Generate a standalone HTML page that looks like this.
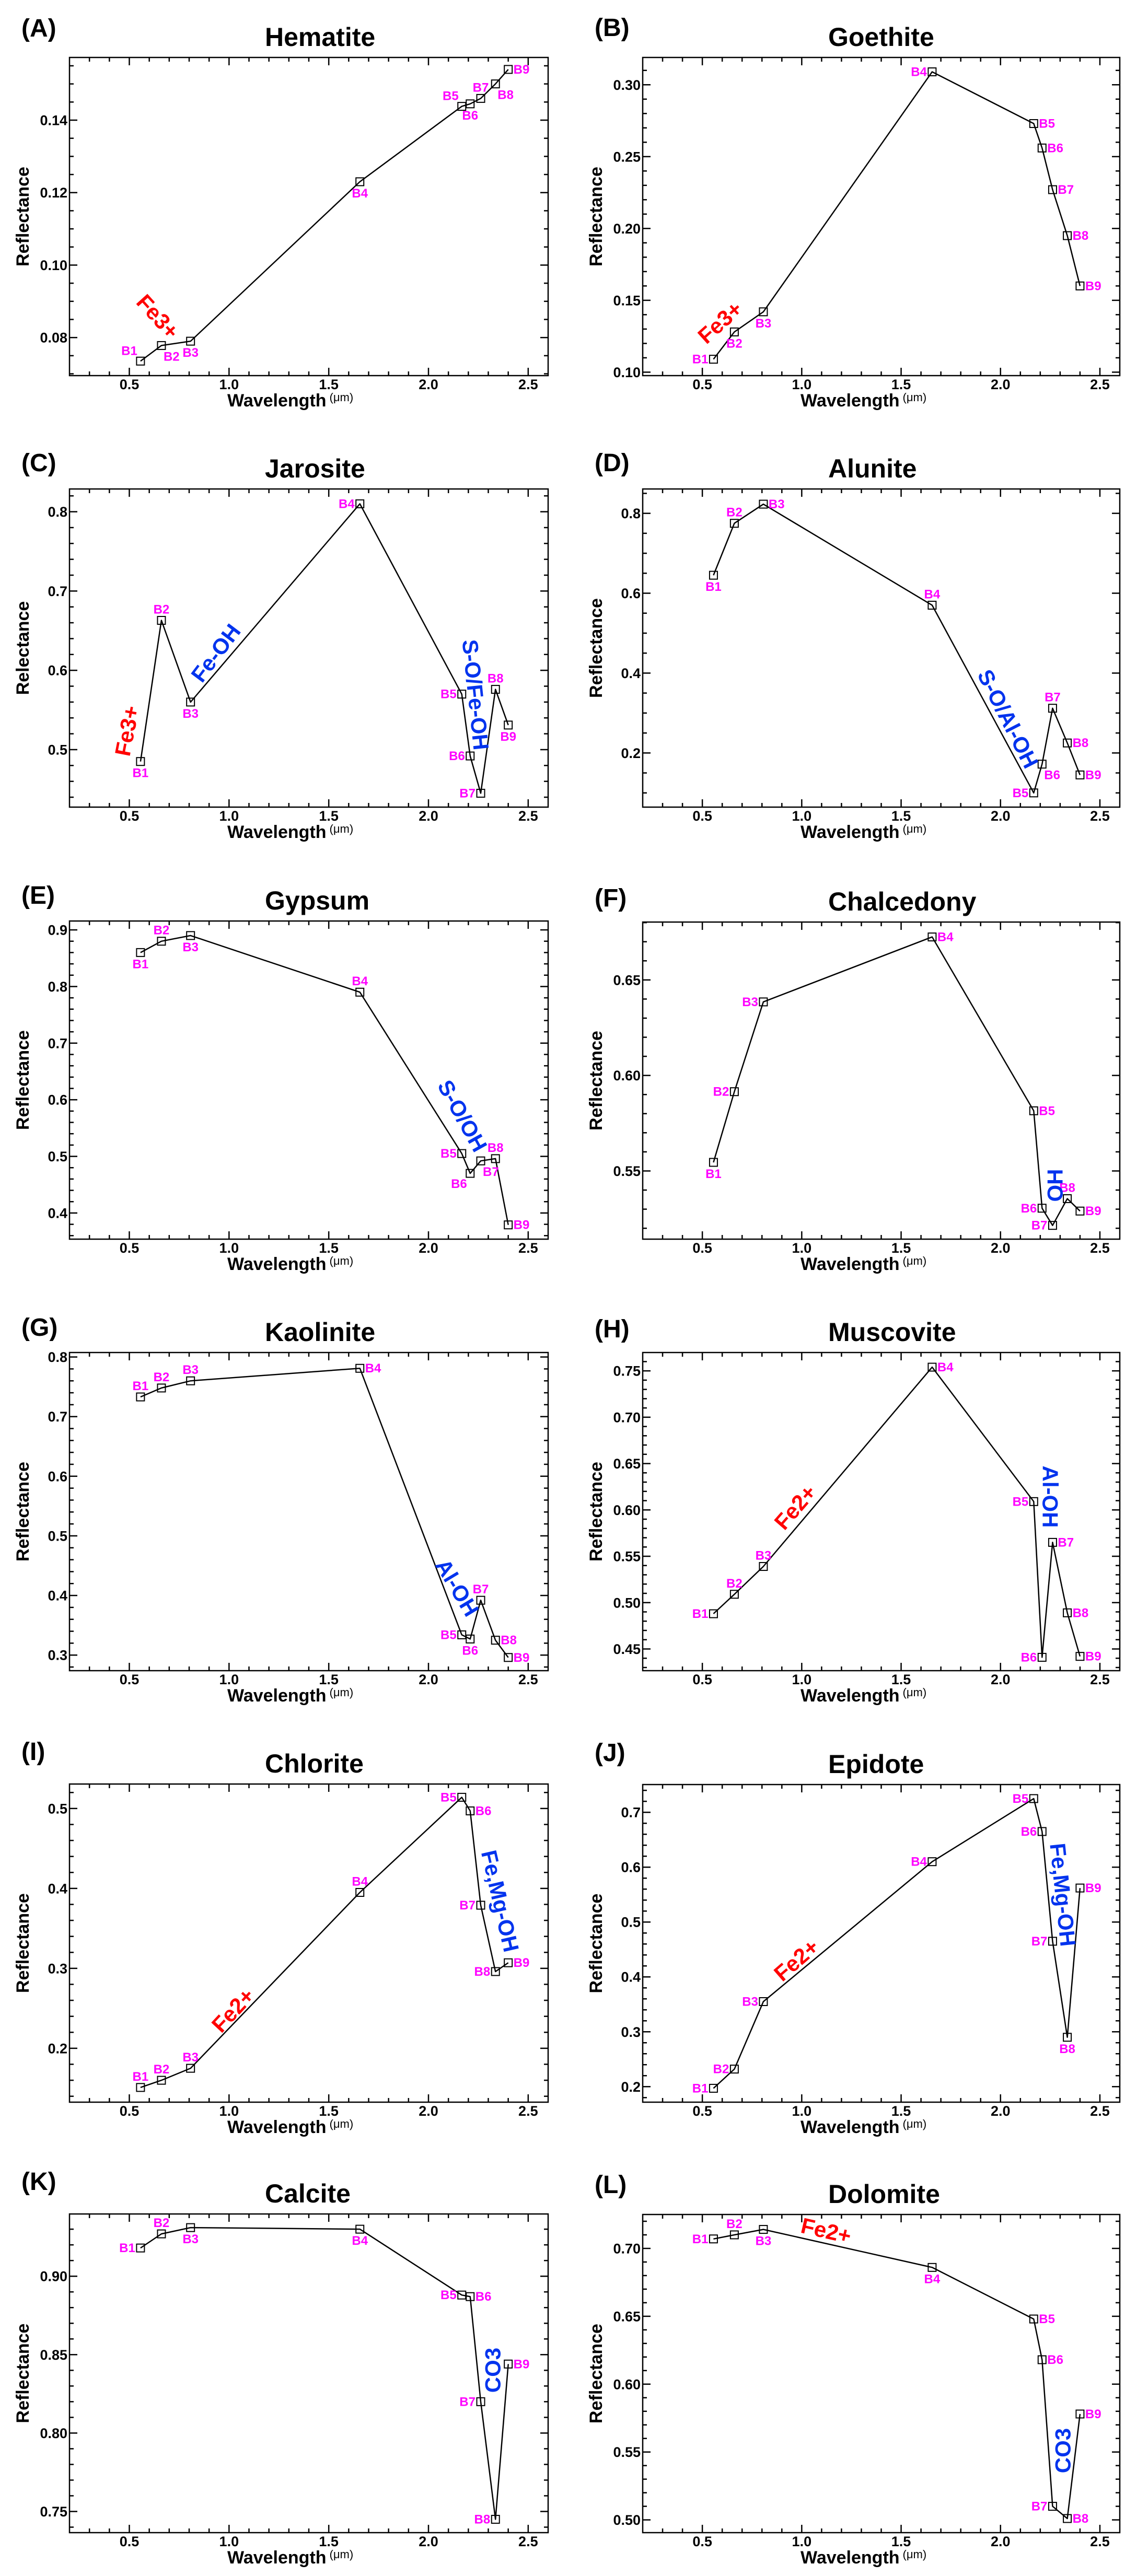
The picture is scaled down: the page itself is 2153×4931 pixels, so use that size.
<!DOCTYPE html>
<html><head><meta charset="utf-8"><title>Mineral spectra</title>
<style>
html,body{margin:0;padding:0;background:#fff;}
svg{display:block;font-family:"Liberation Sans",Arial,sans-serif;}
</style></head>
<body>
<svg id="fig" width="2153" height="4931" viewBox="0 0 2153 4931" xmlns="http://www.w3.org/2000/svg"></svg>
<script>
const bands=[0.556,0.661,0.807,1.656,2.167,2.209,2.262,2.336,2.400];
const bandNames=['B1','B2','B3','B4','B5','B6','B7','B8','B9'];
const xTickLabels=['0.5','1.0','1.5','2.0','2.5'];
const hematiteValues=[0.0735,0.0778,0.0790,0.1230,0.1438,0.1445,0.1460,0.1500,0.1540];
const goethiteValues=[0.109,0.128,0.142,0.309,0.273,0.256,0.227,0.195,0.160];
const jarositeValues=[0.485,0.663,0.560,0.810,0.570,0.492,0.445,0.576,0.531];
const aluniteValues=[0.645,0.775,0.823,0.570,0.100,0.172,0.312,0.225,0.145];
const gypsumValues=[0.860,0.880,0.890,0.790,0.505,0.470,0.492,0.496,0.379];
const chalcedonyValues=[0.5545,0.5915,0.6385,0.6725,0.5815,0.5305,0.5215,0.5355,0.5290];
const kaoliniteValues=[0.733,0.748,0.760,0.781,0.334,0.327,0.392,0.325,0.296];
const muscoviteValues=[0.488,0.509,0.539,0.754,0.609,0.441,0.565,0.489,0.442];
const chloriteValues=[0.151,0.160,0.175,0.395,0.514,0.497,0.379,0.296,0.307];
const epidoteValues=[0.197,0.232,0.355,0.610,0.725,0.665,0.465,0.290,0.562];
const calciteValues=[0.918,0.927,0.931,0.930,0.888,0.887,0.820,0.745,0.844];
const dolomiteValues=[0.707,0.710,0.714,0.686,0.648,0.618,0.510,0.501,0.578];

const svg=document.getElementById('fig');
const NS='http://www.w3.org/2000/svg';
function mk(tag,attrs,parent){const e=document.createElementNS(NS,tag);for(const k in attrs)e.setAttribute(k,attrs[k]);(parent||svg).appendChild(e);return e;}

const panels=[
{id:'A',title:'Hematite',ytitle:'Reflectance',values:hematiteValues,ymin:0.0695,ymax:0.1573,major:0.02,minor:0.005,dec:2,col:0,top:110,bottom:719,labelY:70,
 pos:['tl','br','b','b','tl','b','t','br','r'],ann:[{t:'Fe3+',x:302,y:606,r:48,c:'#ff0000'}]},
{id:'B',title:'Goethite',ytitle:'Reflectance',values:goethiteValues,ymin:0.0976,ymax:0.319,major:0.05,minor:0.01,dec:2,col:1,top:110,bottom:719,labelY:69,
 pos:['l','b','b','l','r','r','r','r','r'],ann:[{t:'Fe3+',x:1378,y:617,r:-42,c:'#ff0000'}]},
{id:'C',title:'Jarosite',ytitle:'Relectance',values:jarositeValues,ymin:0.4275,ymax:0.8287,major:0.1,minor:0.02,dec:1,col:0,top:936,bottom:1545,labelY:902,
 pos:['b','t','b','l','l','l','l','t','b'],ann:[{t:'Fe3+',x:243,y:1399,r:-79,c:'#ff0000'},{t:'Fe-OH',x:413,y:1250,r:-53,c:'#0033ee'},{t:'S-O/Fe-OH',x:910,y:1330,r:84,c:'#0033ee'}]},
{id:'D',title:'Alunite',ytitle:'Reflectance',values:aluniteValues,ymin:0.0644,ymax:0.861,major:0.2,minor:0.05,dec:1,col:1,top:936,bottom:1545,labelY:902,
 pos:['b','t','r','t','l','br','t','r','r'],ann:[{t:'S-O/Al-OH',x:1929,y:1376,r:63,c:'#0033ee'}]},
{id:'E',title:'Gypsum',ytitle:'Reflectance',values:gypsumValues,ymin:0.3538,ymax:0.9157,major:0.1,minor:0.02,dec:1,col:0,top:1763,bottom:2372,labelY:1730,
 pos:['b','t','b','t','l','bl','br','t','r'],ann:[{t:'S-O/OH',x:885,y:2136,r:61,c:'#0033ee'}]},
{id:'F',title:'Chalcedony',ytitle:'Reflectance',values:chalcedonyValues,ymin:0.5143,ymax:0.6803,major:0.05,minor:0.01,dec:2,col:1,top:1765,bottom:2372,labelY:1735,
 pos:['b','l','l','r','r','l','l','t','r'],ann:[{t:'OH',x:2019,y:2269,r:-90,c:'#0033ee'}]},
{id:'G',title:'Kaolinite',ytitle:'Reflectance',values:kaoliniteValues,ymin:0.2739,ymax:0.8075,major:0.1,minor:0.02,dec:1,col:0,top:2589,bottom:3198,labelY:2557,
 pos:['t','t','t','r','l','b','t','r','r'],ann:[{t:'Al-OH',x:875,y:3039,r:59,c:'#0033ee'}]},
{id:'H',title:'Muscovite',ytitle:'Reflectance',values:muscoviteValues,ymin:0.4266,ymax:0.7698,major:0.05,minor:0.01,dec:2,col:1,top:2589,bottom:3198,labelY:2560,
 pos:['l','t','t','r','l','l','r','r','r'],ann:[{t:'Fe2+',x:1522,y:2885,r:-49,c:'#ff0000'},{t:'Al-OH',x:2010,y:2865,r:90,c:'#0033ee'}]},
{id:'I',title:'Chlorite',ytitle:'Reflectance',values:chloriteValues,ymin:0.1326,ymax:0.5306,major:0.1,minor:0.02,dec:1,col:0,top:3415,bottom:4024,labelY:3369,
 pos:['t','t','t','t','l','r','l','l','r'],ann:[{t:'Fe2+',x:446,y:3848,r:-47,c:'#ff0000'},{t:'Fe,Mg-OH',x:957,y:3639,r:77,c:'#0033ee'}]},
{id:'J',title:'Epidote',ytitle:'Reflectance',values:epidoteValues,ymin:0.1717,ymax:0.7506,major:0.1,minor:0.02,dec:1,col:1,top:3416,bottom:4024,labelY:3371,
 pos:['l','l','l','l','l','l','l','b','r'],ann:[{t:'Fe2+',x:1524,y:3752,r:-41,c:'#ff0000'},{t:'Fe,Mg-OH',x:2034,y:3627,r:84,c:'#0033ee'}]},
{id:'K',title:'Calcite',ytitle:'Reflectance',values:calciteValues,ymin:0.7365,ymax:0.9397,major:0.05,minor:0.01,dec:2,col:0,top:4238,bottom:4848,labelY:4192,
 pos:['l','t','b','b','l','r','l','l','r'],ann:[{t:'CO3',x:943,y:4537,r:-90,c:'#0033ee'}]},
{id:'L',title:'Dolomite',ytitle:'Reflectance',values:dolomiteValues,ymin:0.4906,ymax:0.725,major:0.05,minor:0.01,dec:2,col:1,top:4239,bottom:4848,labelY:4198,
 pos:['l','t','b','b','r','r','l','r','r'],ann:[{t:'Fe2+',x:1581,y:4270,r:13,c:'#ff0000'},{t:'CO3',x:2034,y:4691,r:-90,c:'#0033ee'}]}
];

const XMIN=0.2,XMAX=2.6;
panels.forEach(p=>{
  const left=p.col===0?133:1230, right=p.col===0?1049:2143;
  const top=p.top,bottom=p.bottom;
  const xs=v=>left+(v-XMIN)/(XMAX-XMIN)*(right-left);
  const ys=v=>bottom-(v-p.ymin)/(p.ymax-p.ymin)*(bottom-top);
  const key=p.title.toLowerCase();
  const g=mk('g',{});
  
  

  const lab=mk('text',{x:left-92,y:p.labelY,'font-size':48,'font-weight':'bold',fill:'#000'},g);
  lab.textContent='('+p.id+')';
  
  

  const tt=mk('text',{x:p.col===0?507:1585,y:top-22,'font-size':50,'font-weight':'bold',fill:'#000'},g);
  tt.textContent=p.title;
  
  

  const frame=mk('rect',{x:left,y:top,width:right-left,height:bottom-top,fill:'none',stroke:'#000','stroke-width':2.5},g);
  
  

  const k0=Math.ceil(p.ymin/p.minor-1e-6),k1=Math.floor(p.ymax/p.minor+1e-6);
  for(let k=k0;k<=k1;k++){
    const v=k*p.minor;
    const isMaj=Math.abs(v/p.major-Math.round(v/p.major))<1e-6;
    const L=isMaj?15:8, y=ys(v);
    const t1=mk('line',{x1:left,x2:left+L,y1:y,y2:y,stroke:'#000','stroke-width':2.5},g);
    
    
    const t2=mk('line',{x1:right,x2:right-L,y1:y,y2:y,stroke:'#000','stroke-width':2.5},g);
    
    
    if(isMaj){
      const tl=mk('text',{x:left-4,y:y+9.5,'font-size':27,'font-weight':'bold','text-anchor':'end',fill:'#000'},g);
      tl.textContent=v.toFixed(p.dec);
      
      
    }
  }
  for(let k=3;k<=25;k++){
    const v=k/10, isMaj=(k%5===0), L=isMaj?15:8, x=xs(v);
    const t1=mk('line',{x1:x,x2:x,y1:bottom,y2:bottom-L,stroke:'#000','stroke-width':2.5},g);
    
    
    const t2=mk('line',{x1:x,x2:x,y1:top,y2:top+L,stroke:'#000','stroke-width':2.5},g);
    
    
  }
  xTickLabels.forEach(s=>{
    const tl=mk('text',{x:xs(parseFloat(s)),y:bottom+26,'font-size':27,'font-weight':'bold','text-anchor':'middle',fill:'#000'},g);
    tl.textContent=s;
    
    
  });
  const xt=mk('text',{x:left+302,y:bottom+59,'font-size':34,'font-weight':'bold',fill:'#000'},g);
  xt.textContent='Wavelength';
  const mu=mk('tspan',{dx:6,dy:-10,'font-size':22,'font-weight':'normal'},xt);
  mu.textContent='(\u03bcm)';
  
  
  const cy=(top+bottom)/2, yx=left-78;
  const yt=mk('text',{x:yx,y:cy,'font-size':34,'font-weight':'bold','text-anchor':'middle',fill:'#000',transform:'rotate(-90 '+yx+' '+cy+')'},g);
  yt.textContent=p.ytitle;
  
  

  const pts=p.values.map((v,i)=>xs(bands[i]).toFixed(1)+','+ys(v).toFixed(1)).join(' ');
  const pl=mk('polyline',{points:pts,fill:'none',stroke:'#000','stroke-width':2.5,'stroke-linejoin':'round'},g);
  
  
  p.values.forEach((v,i)=>{
    const x=xs(bands[i]),y=ys(v);
    const m=mk('rect',{x:x-7.5,y:y-7.5,width:15,height:15,fill:'none',stroke:'#000','stroke-width':2},g);
    
    
    const pos=p.pos[i]; let tx=x,ty=y+8,anc='middle';
    if(pos==='l'){tx=x-10;anc='end';}
    else if(pos==='r'){tx=x+10;anc='start';}
    else if(pos==='t'){ty=y-13;}
    else if(pos==='b'){ty=y+30;}
    else if(pos==='tl'){tx=x-6;ty=y-12;anc='end';}
    else if(pos==='tr'){tx=x+6;ty=y-12;anc='start';}
    else if(pos==='bl'){tx=x-6;ty=y+28;anc='end';}
    else if(pos==='br'){tx=x+4;ty=y+29;anc='start';}
    const bl=mk('text',{x:tx,y:ty,'font-size':24,'font-weight':'bold','text-anchor':anc,fill:'#ff00ff'},g);
    bl.textContent=bandNames[i];
    
    
  });
  p.ann.forEach(a=>{
    const at=mk('text',{x:a.x,y:a.y,'font-size':42,'font-weight':'bold','text-anchor':'middle','dominant-baseline':'central',fill:a.c,transform:'rotate('+a.r+' '+a.x+' '+a.y+')'},g);
    at.textContent=a.t;
    
    
  });
});
</script>
</body></html>
